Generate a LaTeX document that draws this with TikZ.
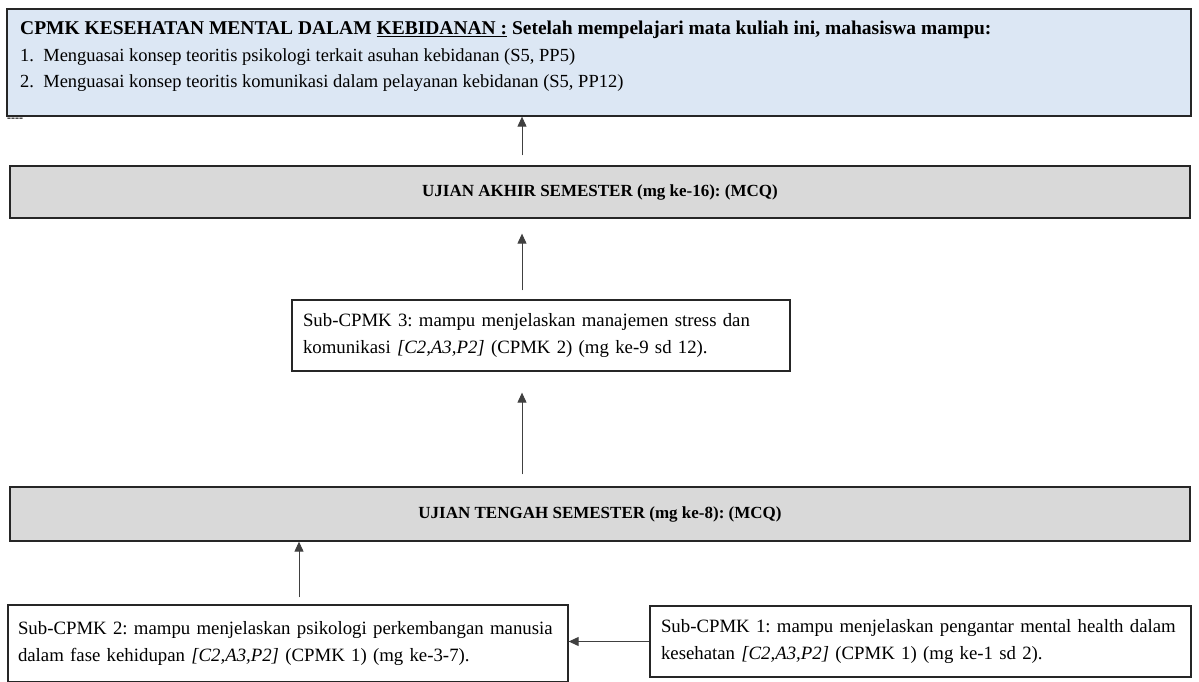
\documentclass[tikz,border=0pt]{standalone}
\usepackage{fontspec}
\setmainfont{Liberation Serif}
\usetikzlibrary{arrows.meta}
\definecolor{topblue}{HTML}{DCE7F4}
\definecolor{examgray}{HTML}{D9D9D9}
\frenchspacing
\begin{document}
\begin{tikzpicture}[x=1pt,y=-1pt,
  boxline/.style={draw=black!85, line width=1.3pt},
  topbox/.style={boxline, fill=topblue, inner sep=0pt},
  exambox/.style={boxline, fill=examgray, inner sep=0pt, font=\fontsize{17}{20}\selectfont\bfseries},
  subbox/.style={boxline, fill=white, inner sep=0pt, align=left, font=\fontsize{18.8}{27}\selectfont},
  bodytext/.style={inner sep=0pt, align=left, font=\fontsize{18.5}{26.5}\selectfont},
  arr/.style={-{Triangle[length=10pt,width=9pt]}, line width=1pt, draw=black!75}
]
\useasboundingbox (0,0) rectangle (1199,682);
% top box
\node[topbox, minimum width=1184pt, minimum height=107pt] (cpmk) at (599,62.5) {};
\node[bodytext, anchor=north west] (cpmktext) at (20,21)
  {{\fontsize{19.5}{26.5}\selectfont\bfseries CPMK KESEHATAN MENTAL DALAM \underline{KEBIDANAN :} Setelah mempelajari mata kuliah ini, mahasiswa mampu:}\\
   1.\ \ Menguasai konsep teoritis psikologi terkait asuhan kebidanan (S5, PP5)\\
   2.\ \ Menguasai konsep teoritis komunikasi dalam pelayanan kebidanan (S5, PP12)};
\node[inner sep=0pt, anchor=base west, font=\fontsize{12}{12}\selectfont\bfseries] (dash) at (7,122) {-{}-{}-{}-};
% UAS
\node[exambox, minimum width=1180pt, minimum height=52pt] (uas) at (600,192)
  {UJIAN AKHIR SEMESTER (mg ke-16): (MCQ)};
% Sub-CPMK 3
\node[subbox, minimum width=498pt, minimum height=71pt, text width=476pt] (sub3) at (541,335.5)
  {Sub-CPMK 3: mampu menjelaskan manajemen stress dan\\
   komunikasi \textit{[C2,A3,P2]} (CPMK 2) (mg ke-9 sd 12).};
% UTS
\node[exambox, minimum width=1180pt, minimum height=54pt] (uts) at (600,514)
  {UJIAN TENGAH SEMESTER (mg ke-8): (MCQ)};
% Sub-CPMK 2
\node[subbox, minimum width=560pt, minimum height=77pt, text width=540pt] (sub2) at (288,643.5)
  {Sub-CPMK 2: mampu menjelaskan psikologi perkembangan manusia\\
   dalam fase kehidupan \textit{[C2,A3,P2]} (CPMK 1) (mg ke-3-7).};
% Sub-CPMK 1
\node[subbox, minimum width=541pt, minimum height=71pt, text width=519pt] (sub1) at (920.5,641.5)
  {Sub-CPMK 1: mampu menjelaskan pengantar mental health dalam\\
   kesehatan \textit{[C2,A3,P2]} (CPMK 1) (mg ke-1 sd 2).};
% connectors
\draw[arr, shorten <=10pt] (uas.north -| 522,0) -- (cpmk.south -| 522,0);
\draw[arr, shorten <=9pt, shorten >=15pt] (sub3.north -| 522,0) -- (uas.south -| 522,0);
\draw[arr, shorten <=12pt, shorten >=21pt] (uts.north -| 522,0) -- (sub3.south -| 522,0);
\draw[arr, shorten <=7pt] (sub2.north -| 299,0) -- (uts.south -| 299,0);
\draw[arr] (sub1.west) -- (sub2.east |- sub1.west);
\end{tikzpicture}
\end{document}
